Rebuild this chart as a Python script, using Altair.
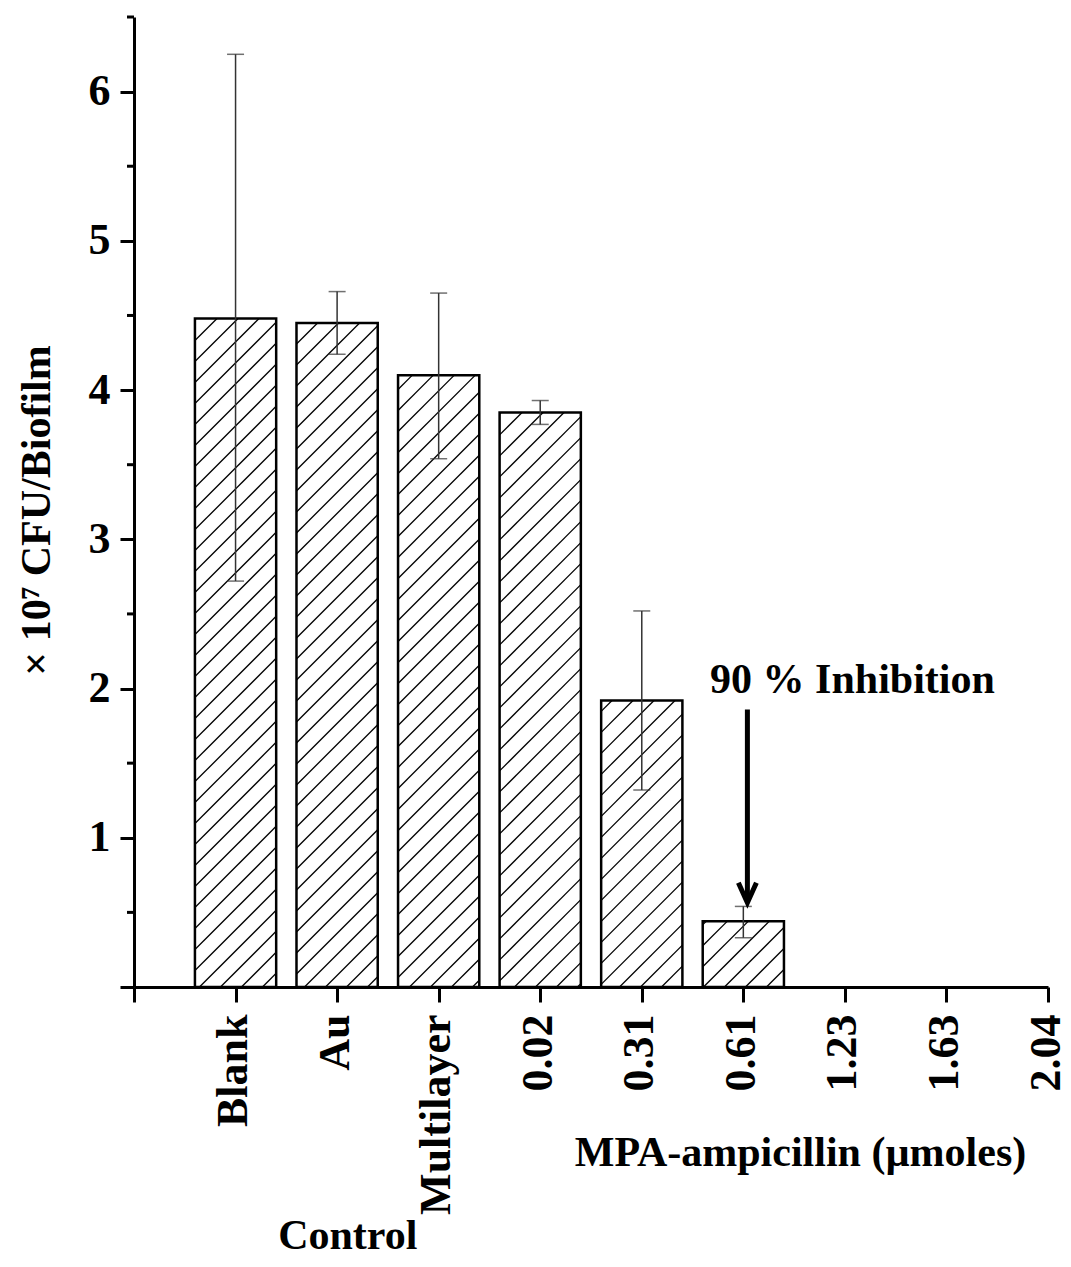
import altair as alt
import pandas as pd

# ---- data ----
categories = ["", "Blank", "Au", "Multilayer", "0.02", "0.31", "0.61", "1.23", "1.63", "2.04"]
bar_pos = [1, 2, 3, 4, 5, 6]
bar_values = [4.48, 4.45, 4.10, 3.85, 1.92, 0.44]
err_low = [2.72, 4.24, 3.54, 3.77, 1.32, 0.33]
err_high = [6.25, 4.66, 4.65, 3.93, 2.52, 0.54]
y_major = [0, 1, 2, 3, 4, 5, 6]
y_minor = [0.5, 1.5, 2.5, 3.5, 4.5, 5.5, 6.5]

FONT = "Liberation Serif"
FS = 42
LFS = 44
W, H = 914, 970
XMAX, YMAX = 9, 6.5
BAR_W = 0.8

df = pd.DataFrame({
    "pos": bar_pos,
    "value": bar_values,
    "lo": err_low,
    "hi": err_high,
})
df["x0"] = df["pos"] - BAR_W / 2
df["x1"] = df["pos"] + BAR_W / 2
df["zero"] = 0.0

# hatch lines ("/" pattern) derived from the bars, on a global lattice
PX, PY = W / XMAX, H / YMAX
SPACING, PHASE = 21.0, 18.5
segs = []
for x0, x1, v in zip(df["x0"], df["x1"], df["value"]):
    xl, xr, hh = x0 * PX, x1 * PX, v * PY
    for k in range(-200, 200):
        c = PHASE + k * SPACING
        xs = max(xl, -c)
        xe = min(xr, hh - c)
        if xs < xe:
            segs.append({"hx": xs / PX, "hy": (xs + c) / PY,
                         "hx2": xe / PX, "hy2": (xe + c) / PY})
hatch = pd.DataFrame(segs)

xscale = alt.Scale(domain=[0, XMAX], nice=False, zero=False)
yscale = alt.Scale(domain=[0, YMAX], nice=False, zero=True)

label_expr = "[" + ",".join("'%s'" % c for c in categories) + "][datum.value]"

x_axis = alt.Axis(
    values=list(range(0, XMAX + 1)), labelExpr=label_expr, labelAngle=-90,
    labelAlign="right", labelBaseline="middle", labelPadding=12, labelLimit=500,
    labelOffset=-2,
    labelFont=FONT, labelFontSize=LFS, labelFontWeight="bold", labelColor="black",
    tickSize=15, tickWidth=3, tickColor="black", domainWidth=3, domainColor="black",
    grid=False, title="MPA-ampicillin (µmoles)", titleFont=FONT, titleFontSize=FS,
    titleFontWeight="bold", titleColor="black", titleX=666, titleY=178,
    titleAlign="center", titleBaseline="alphabetic", labelFlush=False,
    labelOverlap=False,
)
y_axis = alt.Axis(
    values=y_major, format="d", labelExpr="datum.value == 0 ? '' : datum.label",
    labelPadding=10, labelFont=FONT, labelFontSize=LFS, labelFontWeight="bold",
    labelColor="black", tickSize=14, tickWidth=3, tickColor="black",
    domainWidth=3, domainColor="black", grid=False,
    title="× 10⁷ CFU/Biofilm", titleFont=FONT, titleFontSize=FS,
    titleFontWeight="bold", titleColor="black", titleAngle=-90,
    titleX=-98, titleY=493, titleAlign="center", titleBaseline="middle",
    labelFlush=False, labelOverlap=False,
)

base = alt.Chart(df)

bars_fill = base.mark_rect(fill="white", stroke=None).encode(
    x=alt.X("x0:Q", scale=xscale, axis=x_axis),
    x2="x1:Q",
    y=alt.Y("zero:Q", scale=yscale, axis=y_axis),
    y2="value:Q",
)

hatch_lines = alt.Chart(hatch).mark_rule(color="black", strokeWidth=1.3).encode(
    x=alt.X("hx:Q", scale=xscale),
    y=alt.Y("hy:Q", scale=yscale),
    x2="hx2:Q",
    y2="hy2:Q",
)

bars_outline = base.mark_rect(fill=None, fillOpacity=0, stroke="black", strokeWidth=2.5).encode(
    x=alt.X("x0:Q", scale=xscale),
    x2="x1:Q",
    y=alt.Y("zero:Q", scale=yscale),
    y2="value:Q",
)

err_rule = base.mark_rule(color="#333333", strokeWidth=1.5).encode(
    x=alt.X("pos:Q", scale=xscale),
    y=alt.Y("lo:Q", scale=yscale),
    y2="hi:Q",
)
cap_lo = base.mark_tick(orient="horizontal", color="#333333", size=17, thickness=1.5).encode(
    x=alt.X("pos:Q", scale=xscale),
    y=alt.Y("lo:Q", scale=yscale),
)
cap_hi = base.mark_tick(orient="horizontal", color="#333333", size=17, thickness=1.5).encode(
    x=alt.X("pos:Q", scale=xscale),
    y=alt.Y("hi:Q", scale=yscale),
)

minor = alt.Chart(pd.DataFrame({"m": y_minor})).mark_rule(color="black", strokeWidth=3).encode(
    y=alt.Y("m:Q", scale=yscale),
    x=alt.value(-7),
    x2=alt.value(0),
)

# annotation: 90 % Inhibition with arrow
ann = pd.DataFrame({"tx": [7.075], "ty": [1.97], "t": ["90 % Inhibition"],
                    "ax": [6.04], "ay_top": [1.86], "ay_bot": [0.60], "tip": [0.565]})
ann_text = alt.Chart(ann).mark_text(font=FONT, fontSize=FS, fontWeight="bold",
                                    color="black", align="center", baseline="alphabetic").encode(
    x=alt.X("tx:Q", scale=xscale), y=alt.Y("ty:Q", scale=yscale), text="t:N")
arrow_shaft = alt.Chart(ann).mark_rule(color="black", strokeWidth=5).encode(
    x=alt.X("ax:Q", scale=xscale), y=alt.Y("ay_top:Q", scale=yscale), y2="ay_bot:Q")
arrow_head = alt.Chart(ann).mark_point(
    shape="M-0.45,-1L0,0L0.45,-1", size=1600, filled=False, stroke="black",
    strokeWidth=5, opacity=1, strokeJoin="miter").encode(
    x=alt.X("ax:Q", scale=xscale), y=alt.Y("tip:Q", scale=yscale))

ctrl = pd.DataFrame({"cx": [2.105], "t": ["Control"]})
ctrl_text = alt.Chart(ctrl).mark_text(font=FONT, fontSize=FS, fontWeight="bold",
                                      color="black", align="center", baseline="alphabetic").encode(
    x=alt.X("cx:Q", scale=xscale), y=alt.value(1232), text="t:N")

chart = alt.layer(
    bars_fill, hatch_lines, bars_outline, err_rule, cap_lo, cap_hi, minor,
    ann_text, arrow_shaft, arrow_head, ctrl_text,
).properties(
    width=W, height=H,
    autosize=alt.AutoSizeParams(type="none"),
    padding={"left": 126, "top": 9, "right": 15, "bottom": 271},
    background="white",
).configure_view(stroke=None)

chart.save("out.html", embed_options={"renderer": "svg", "actions": False})
